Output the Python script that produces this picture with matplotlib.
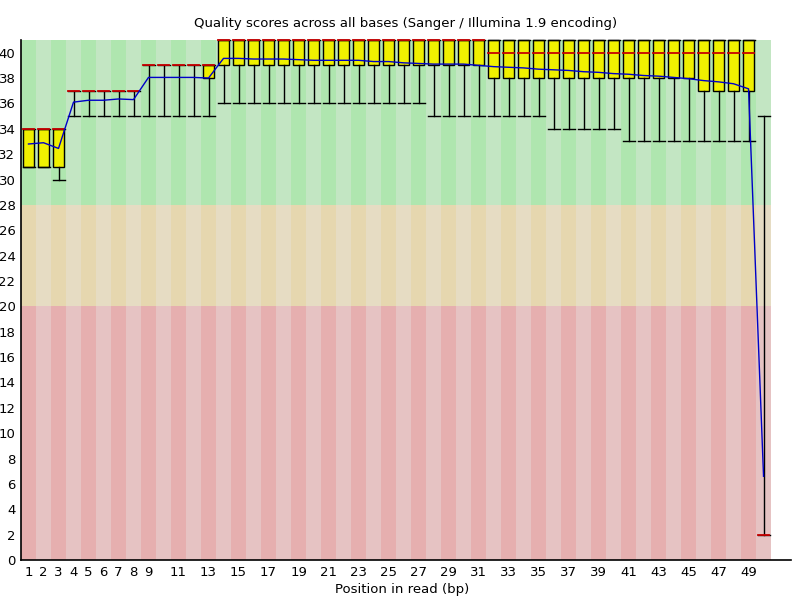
import matplotlib
matplotlib.use("Agg")
import matplotlib.pyplot as plt

positions = list(range(1, 51))
tick_labels = [str(p) for p in range(1, 10)] + [str(p) for p in range(11, 50, 2)]
tick_pos = list(range(1, 10)) + list(range(11, 50, 2))

median = [34] * 3 + [37] * 5 + [39] * 5 + [41] * 18 + [40] * 18 + [2]
q1 = [31] * 3 + [37] * 5 + [39] * 4 + [38] + [39] * 18 + [38] * 14 + [37] * 4 + [2]
q3 = [34] * 3 + [37] * 5 + [39] * 5 + [41] * 36 + [2]
p10 = [31, 31, 30] + [35] * 10 + [36] * 14 + [35] * 8 + [34] * 5 + [33] * 9 + [2]
p90 = [34] * 3 + [37] * 5 + [39] * 5 + [41] * 36 + [35]
mean = [32.8, 32.9, 32.45, 36.1, 36.25, 36.25, 36.35, 36.3, 38.05, 38.05,
        38.05, 38.05, 38.0, 39.55, 39.55, 39.5, 39.5, 39.5, 39.45, 39.4,
        39.4, 39.4, 39.4, 39.3, 39.3, 39.2, 39.15, 39.1, 39.1, 39.1,
        39.0, 38.9, 38.85, 38.8, 38.7, 38.65, 38.6, 38.5, 38.45, 38.35,
        38.3, 38.2, 38.15, 38.05, 37.95, 37.8, 37.7, 37.55, 37.15, 6.6]

# quality zones: (bottom, top, light colour, dark colour)
zones = [(0, 20, (230/255, 195/255, 195/255), (230/255, 175/255, 175/255)),
         (20, 28, (230/255, 220/255, 195/255), (230/255, 215/255, 175/255)),
         (28, 41, (195/255, 230/255, 195/255), (175/255, 230/255, 175/255))]

YELLOW = (240/255, 240/255, 0)
RED = (200/255, 0, 0)
BLUE = (0, 0, 200/255)

fig = plt.figure(figsize=(8, 6), dpi=100)
ax = fig.add_axes([21/800, 40/600, 770/800, 520/600])

for bottom, top, light, dark in zones:
    cols = [dark if p % 2 == 1 else light for p in positions]
    ax.bar(positions, top - bottom, bottom=bottom, width=1.0, color=cols,
           linewidth=0, zorder=0)

bw = 0.76
for i, p in enumerate(positions):
    if q3[i] > q1[i]:
        ax.bar(p, q3[i] - q1[i], bottom=q1[i], width=bw, color=YELLOW,
               edgecolor="black", linewidth=1.0, zorder=2, clip_on=False)
    ax.plot([p, p], [q3[i], p90[i]], color="black", lw=1.0, zorder=3, clip_on=False)
    ax.plot([p, p], [p10[i], q1[i]], color="black", lw=1.0, zorder=3, clip_on=False)
    ax.plot([p - 0.4, p + 0.4], [p90[i], p90[i]], color="black", lw=1.0, zorder=3,
            clip_on=False)
    ax.plot([p - 0.4, p + 0.4], [p10[i], p10[i]], color="black", lw=1.0, zorder=3,
            clip_on=False)
    ax.plot([p - bw / 2, p + bw / 2], [median[i], median[i]], color=RED,
            lw=1.3, zorder=4, clip_on=False)

ax.plot(positions, mean, color=BLUE, lw=1.0, zorder=5)

ax.set_xlim(0.5, 51.83)
ax.set_ylim(0, 41)
ax.set_xticks(tick_pos)
ax.set_xticklabels(tick_labels)
ax.set_yticks(range(0, 41, 2))
ax.tick_params(length=0, labelsize=9.5, pad=4)
for s in ["top", "right"]:
    ax.spines[s].set_visible(False)
for s in ["left", "bottom"]:
    ax.spines[s].set_linewidth(1.2)

fig.text(406/800, 1 - 23/600, "Quality scores across all bases (Sanger / Illumina 1.9 encoding)",
         ha="center", va="center", fontsize=9.5)
fig.text(402/800, 1 - 590/600, "Position in read (bp)", ha="center", va="center",
         fontsize=9.5)

fig.savefig("out.png", dpi=100)
